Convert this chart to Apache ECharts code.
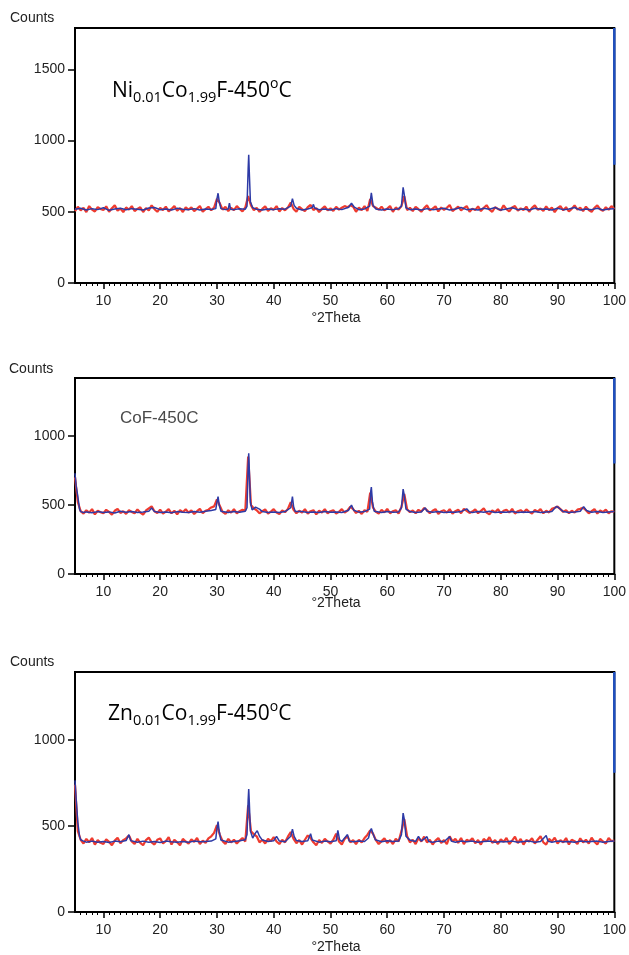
<!DOCTYPE html>
<html>
<head>
<meta charset="utf-8">
<script src="https://cdn.jsdelivr.net/npm/echarts@6.0.0/dist/echarts.min.js"></script>
<style>
html, body { margin: 0; padding: 0; background: #fff; }
#main { width: 629px; height: 955px; }
</style>
</head>
<body>
<div id="main"></div>
<script>
// tick labels
var xTicks = [10, 20, 30, 40, 50, 60, 70, 80, 90, 100];
var yMax = [1790, 1420, 1395];

// red trace: one value every 0.5 deg from 5 to 100
var redStart = 5, redStep = 0.5;

var red1 = [
  505,535,510,528,498,540,515,502,532,520,
  512,538,500,525,545,508,522,498,530,515,
  540,505,520,532,498,526,510,545,518,500,
  528,512,536,502,520,540,508,525,498,532,
  515,530,505,522,540,500,518,535,510,530,
  590,560,515,535,505,528,512,540,520,502,
  530,610,545,512,528,500,520,538,506,524,
  515,540,502,526,510,530,565,520,500,535,
  518,505,532,548,512,526,498,520,538,510,
  524,506,535,515,528,540,532,545,535,500,
  530,512,540,505,590,540,528,515,536,510,
  522,540,500,530,515,540,610,512,528,505,
  535,518,500,526,545,510,522,538,502,530,
  514,528,548,505,520,536,510,525,540,500,
  522,512,538,505,528,546,515,500,532,520,
  510,545,518,502,530,540,508,524,512,536,
  500,528,545,515,522,506,538,512,530,498,
  525,540,510,532,502,520,545,515,528,505,
  536,512,500,528,545,518,506,532,514,540,
  520
];

var red2 = [
  700,520,455,438,462,445,470,432,458,448,
  440,465,450,430,458,472,442,455,436,462,
  450,440,468,445,430,460,475,490,455,442,
  466,438,452,470,440,458,432,462,448,470,
  445,460,435,455,472,440,458,466,482,490,
  540,495,450,435,462,445,470,440,455,465,
  460,850,500,475,462,440,455,468,438,452,
  470,445,435,460,448,472,520,465,440,458,
  445,470,438,455,462,432,458,446,470,440,
  455,462,438,450,470,445,460,488,470,442,
  458,435,462,450,590,480,450,438,465,446,
  472,440,455,462,438,485,580,470,448,460,
  440,465,452,478,462,440,458,470,436,455,
  462,445,470,438,455,466,440,472,458,442,
  452,468,440,458,475,445,432,460,448,470,
  440,458,466,445,472,438,455,462,446,468,
  450,438,465,452,470,440,458,446,472,480,
  488,470,450,462,440,458,445,466,472,480,
  462,440,455,470,438,460,448,466,440,455,
  450
];

var red3 = [
  740,470,420,398,425,405,430,392,418,402,
  395,422,408,388,415,432,400,418,428,445,
  410,395,425,402,388,418,432,405,392,420,
  428,398,412,435,392,420,405,388,425,410,
  398,422,408,430,395,415,402,428,440,460,
  505,450,412,395,425,405,420,398,415,430,
  410,620,470,452,440,405,420,398,425,412,
  435,410,395,420,405,438,465,425,400,418,
  392,420,445,430,405,388,418,402,425,410,
  398,420,455,410,392,425,440,405,418,395,
  420,405,430,448,475,455,418,395,412,428,
  402,418,395,425,410,470,540,440,405,420,
  395,430,410,438,405,420,392,415,430,402,
  418,395,440,410,425,402,430,395,420,412,
  428,400,418,392,425,410,435,402,418,395,
  422,408,430,395,415,438,400,425,392,418,
  410,428,398,420,440,405,392,425,410,432,
  398,418,405,430,392,420,412,395,428,405,
  420,398,432,408,392,425,410,398,430,412,
  415
];

// blue trace: [2theta, counts]
var blue1 = [
  [5,518],[6,525],[7,512],[8,522],[9,515],[10,528],[11,510],[12,520],[13,525],[14,514],
  [15,522],[16,518],[17,512],[18,526],[19,530],[20,515],[21,520],[22,512],[23,524],[24,518],
  [25,515],[26,522],[27,512],[28,520],[29,516],[29.8,522],[30.0,590],[30.2,630],[30.4,575],[30.7,522],
  [31.5,515],[32.0,520],[32.2,560],[32.4,518],[33,515],[34,522],[35,518],[35.3,540],[35.5,800],[35.6,900],
  [35.7,780],[35.9,570],[36.3,528],[37,518],[38,512],[39,520],[40,515],[41,522],[42,518],[43.0,540],
  [43.3,592],[43.6,545],[44,525],[45,512],[46,520],[46.8,530],[47,552],[47.2,526],[48,515],[49,520],
  [50,512],[51,522],[52,515],[53.2,532],[53.7,560],[54.2,532],[55,515],[56,520],[56.9,540],[57.2,632],
  [57.5,545],[58,520],[59,512],[60,520],[61,515],[62,522],[62.5,540],[62.8,672],[63.0,620],[63.3,528],
  [64,515],[65,520],[66,512],[67,522],[68,515],[69,520],[70,525],[71,512],[72,520],[73,530],
  [74,515],[75,520],[76,512],[77,525],[78,518],[79,530],[80,512],[81,520],[82,528],[83,515],
  [84,520],[85,512],[86,525],[87,518],[88,520],[89,512],[90,525],[91,515],[92,520],[93,530],
  [94,512],[95,520],[96,515],[97,525],[98,512],[99,520],[100,522]
];

var blue2 = [
  [5,730],[5.2,640],[5.5,560],[5.8,470],[6,452],[6.5,446],[7,450],[8,444],[9,452],[10,446],
  [11,450],[12,442],[13,455],[14,448],[15,452],[16,446],[17,450],[18,455],[18.5,478],[19,452],
  [20,446],[21,450],[22,444],[23,452],[24,448],[25,446],[26,452],[27,448],[28,455],[29,460],
  [29.8,468],[30.0,520],[30.2,560],[30.4,500],[30.7,455],[31,450],[32,446],[33,452],[34,448],[35,455],
  [35.3,480],[35.5,780],[35.6,875],[35.7,760],[35.9,520],[36.2,465],[36.8,485],[37.1,495],[37.5,470],[38,452],
  [39,446],[40,450],[41,446],[42,452],[43.0,480],[43.3,560],[43.5,490],[43.8,452],[44,448],[45,452],
  [46,446],[47,450],[48,445],[49,452],[50,448],[51,450],[52,446],[53.2,462],[53.7,500],[54.1,462],
  [55,448],[56,452],[56.9,470],[57.1,600],[57.2,630],[57.4,520],[57.7,455],[58,450],[59,446],[60,452],
  [61,448],[62,450],[62.5,480],[62.8,615],[63.0,570],[63.3,470],[64,452],[65,446],[66,450],[66.7,480],
  [67,455],[68,448],[69,452],[70,446],[71,450],[72,448],[73,452],[74,472],[74.5,450],[75,446],
  [76,452],[77,448],[78,455],[79,446],[80,450],[81,448],[82,452],[83,446],[84,450],[85,448],
  [86,452],[87,446],[88,450],[89,452],[89.8,490],[90.2,480],[91,452],[92,446],[93,450],[94,455],
  [94.6,488],[95.1,460],[96,448],[97,452],[98,446],[99,450],[100,452]
];

var blue3 = [
  [5,765],[5.2,660],[5.5,520],[5.8,440],[6,420],[6.5,412],[7,406],[8,412],[9,405],[10,410],
  [11,404],[12,412],[13,408],[14,415],[14.5,450],[14.8,415],[15,410],[16,405],[17,412],[18,406],
  [19,410],[20,404],[21,412],[22,408],[23,405],[24,410],[25,406],[26,412],[27,408],[28,410],
  [29,412],[29.8,425],[30.0,485],[30.2,525],[30.4,470],[30.7,418],[31,412],[32,406],[33,410],[34,414],
  [35,420],[35.3,450],[35.5,650],[35.6,715],[35.7,640],[35.9,470],[36.3,430],[36.8,460],[37.1,472],[37.5,440],
  [38,418],[39,410],[40,414],[40.5,440],[41,412],[42,408],[43.0,440],[43.3,482],[43.6,440],[44,415],
  [45,410],[46,414],[46.5,455],[46.8,418],[47,410],[48,406],[49,412],[50,408],[51,414],[51.3,475],
  [51.6,420],[52,410],[53,450],[53.3,412],[54,408],[55,412],[56,410],[56.7,430],[57.0,470],[57.2,485],
  [57.5,455],[57.9,420],[58,412],[59,408],[60,414],[61,410],[62,412],[62.5,450],[62.8,575],[63.0,540],
  [63.3,440],[64,418],[65,410],[65.5,440],[66,412],[67,438],[67.3,410],[68,406],[69,412],[70,408],
  [71,438],[71.3,412],[72,406],[73,412],[74,408],[75,412],[76,405],[77,410],[78,412],[79,406],
  [80,410],[81,408],[82,412],[83,405],[84,410],[85,412],[86,406],[87,410],[88,445],[88.3,412],
  [89,406],[90,412],[91,408],[92,410],[93,405],[94,412],[95,408],[96,410],[97,412],[98,406],
  [99,410],[100,412]
];

// blue run-off at the right edge (100 deg)
var edge1 = [[100, 830], [100, 1790]];
var edge2 = [[100, 800], [100, 1420]];
var edge3 = [[100, 810], [100, 1395]];

var reds = [red1, red2, red3];
var blues = [blue1, blue2, blue3];
var edges = [edge1, edge2, edge3];

var grids = [
  { left: 75, top: 28, width: 542, height: 255 },
  { left: 75, top: 378, width: 541, height: 196 },
  { left: 75, top: 672, width: 541, height: 240 }
];

var minorTicks = [];
for (var t = 6; t < 100; t++) {
  if (t % 10 !== 0) minorTicks.push(t);
}

var axisFont = { fontFamily: 'Liberation Sans', fontSize: 14, color: '#222' };

var xAxes = [], yAxes = [], series = [];
grids.forEach(function (g, i) {
  g.show = true;
  g.borderColor = '#000';
  g.borderWidth = 2;
  g.backgroundColor = '#fff';

  xAxes.push({
    type: 'value', gridIndex: i, min: 5, max: 100, position: 'bottom',
    axisLine: { show: true, lineStyle: { color: '#000', width: 2 } },
    axisTick: { show: true, inside: false, length: 6, customValues: xTicks, lineStyle: { color: '#000', width: 1.5 } },
    axisLabel: Object.assign({ margin: 11, customValues: xTicks }, axisFont),
    splitLine: { show: false }
  });
  xAxes.push({
    type: 'value', gridIndex: i, min: 5, max: 100, position: 'bottom',
    axisLine: { show: false },
    axisTick: { show: true, inside: false, length: 3, customValues: minorTicks, lineStyle: { color: '#000', width: 1 } },
    axisLabel: { show: false },
    splitLine: { show: false }
  });
  yAxes.push({
    type: 'value', gridIndex: i, min: 0, max: yMax[i], interval: 500,
    axisLine: { show: true, lineStyle: { color: '#000', width: 2 } },
    axisTick: { show: true, inside: false, length: 7, lineStyle: { color: '#000', width: 1.5 } },
    axisLabel: Object.assign({
      margin: 10, showMaxLabel: false,
      formatter: function (v) { return String(v); }
    }, axisFont),
    splitLine: { show: false }
  });

  series.push({
    type: 'line', xAxisIndex: i * 2, yAxisIndex: i,
    data: reds[i].map(function (v, k) { return [redStart + k * redStep, v]; }),
    showSymbol: false, silent: true,
    lineStyle: { color: '#ee3b2f', width: 2.2 }
  });
  series.push({
    type: 'line', xAxisIndex: i * 2, yAxisIndex: i,
    data: blues[i],
    showSymbol: false, silent: true,
    lineStyle: { color: '#2d3aa6', width: 1.5 }
  });
  series.push({
    type: 'line', xAxisIndex: i * 2, yAxisIndex: i,
    data: edges[i],
    showSymbol: false, silent: true, z: 5,
    lineStyle: { color: '#1f4fc0', width: 2.5 }
  });
});

var labelStyle = { font: '14px "Liberation Sans"', fill: '#222', textVerticalAlign: 'middle' };
var richLabel = {
  m: { fontFamily: 'Open Sans', fontSize: 21, lineHeight: 28, verticalAlign: 'middle', color: '#111' },
  s: { fontFamily: 'Open Sans', fontSize: 14.5, lineHeight: 21, verticalAlign: 'bottom', color: '#111' },
  u: { fontFamily: 'Open Sans', fontSize: 14, lineHeight: 14, verticalAlign: 'top', color: '#111' }
};

var graphics = [
  { type: 'text', x: 10, y: 18, style: Object.assign({ text: 'Counts' }, labelStyle) },
  { type: 'text', x: 9, y: 369, style: Object.assign({ text: 'Counts' }, labelStyle) },
  { type: 'text', x: 10, y: 662, style: Object.assign({ text: 'Counts' }, labelStyle) },
  { type: 'text', x: 336, y: 318, style: Object.assign({ text: '\u00b02Theta', textAlign: 'center' }, labelStyle) },
  { type: 'text', x: 336, y: 603, style: Object.assign({ text: '\u00b02Theta', textAlign: 'center' }, labelStyle) },
  { type: 'text', x: 336, y: 947, style: Object.assign({ text: '\u00b02Theta', textAlign: 'center' }, labelStyle) },
  { type: 'text', x: 112, y: 77, style: {
      text: '{m|Ni}{s|0.01}{m|Co}{s|1.99}{m|F-450}{u|o}{m|C}',
      rich: richLabel, textVerticalAlign: 'top'
  } },
  { type: 'text', x: 120, y: 418, style: {
      text: 'CoF-450C', font: '17px "Liberation Sans"', fill: '#4a4a4a', textVerticalAlign: 'middle'
  } },
  { type: 'text', x: 108, y: 700, style: {
      text: '{m|Zn}{s|0.01}{m|Co}{s|1.99}{m|F-450}{u|o}{m|C}',
      rich: richLabel, textVerticalAlign: 'top'
  } }
];

var myChart = echarts.init(document.getElementById('main'));
myChart.setOption({
  animation: false,
  backgroundColor: '#fff',
  grid: grids,
  xAxis: xAxes,
  yAxis: yAxes,
  series: series,
  graphic: graphics
});
</script>
</body>
</html>
